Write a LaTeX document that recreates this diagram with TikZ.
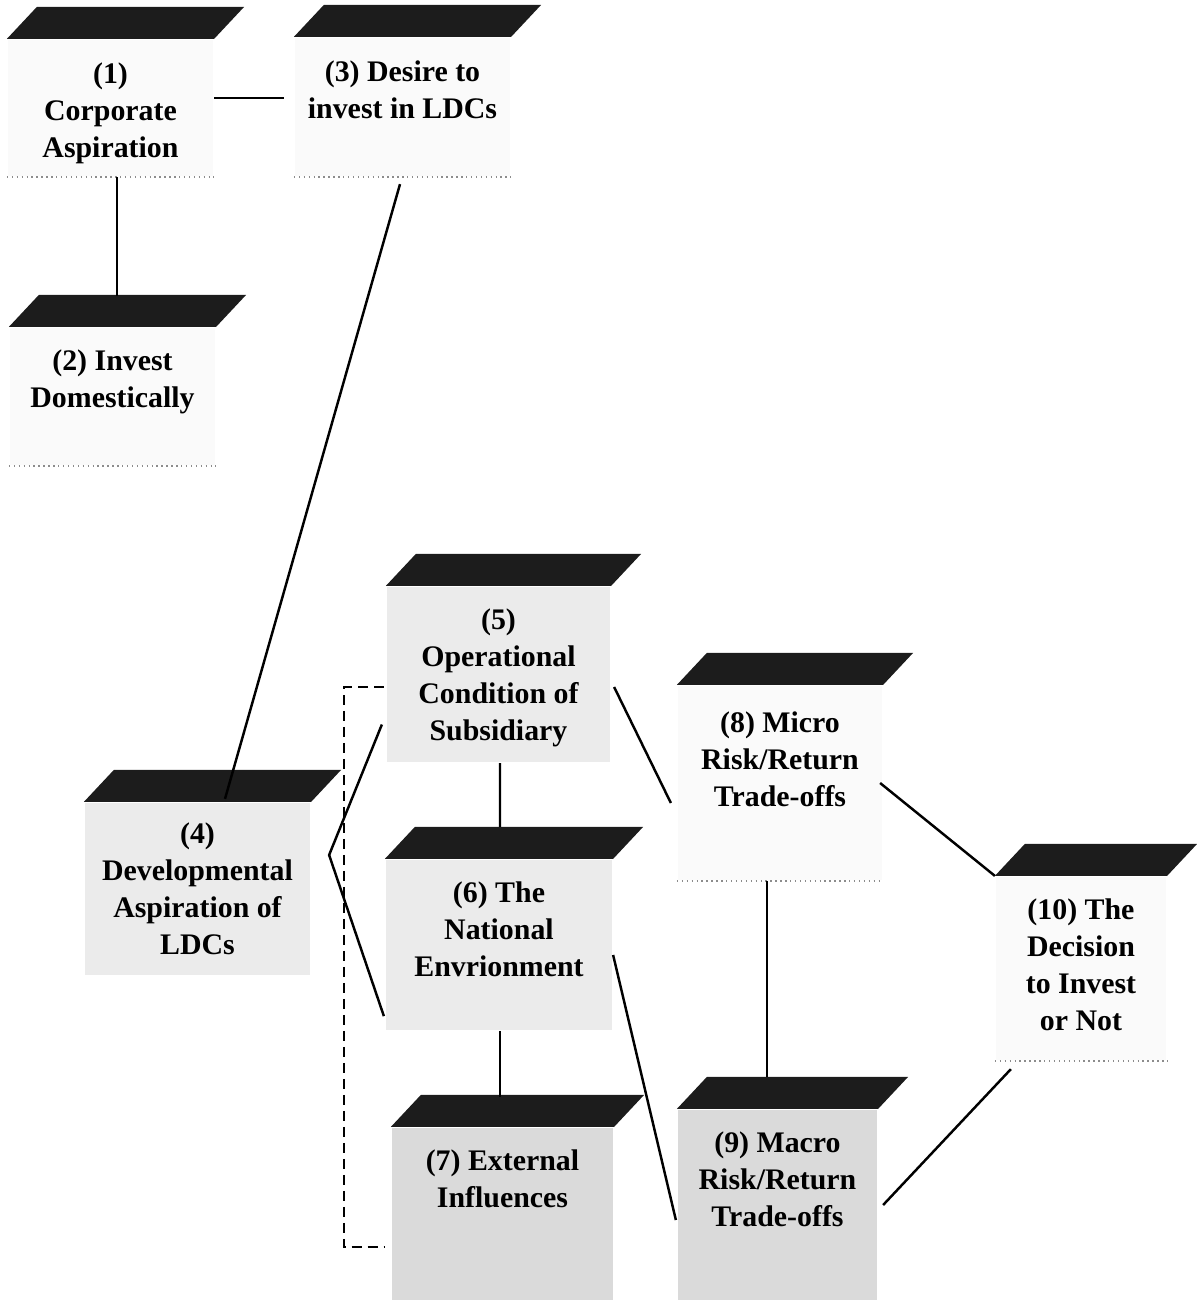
\documentclass[tikz,border=0pt]{standalone}
\usepackage{fontspec}
\setmainfont{Liberation Serif}
\usetikzlibrary{positioning, calc}
\definecolor{clid}{HTML}{1C1C1C}
\definecolor{cpale}{HTML}{FAFAFA}
\definecolor{clight}{HTML}{EBEBEB}
\definecolor{cmid}{HTML}{DADADA}
\tikzset{
  every picture/.style={line width=1.3pt},
  body/.style={fill=#1, inner sep=0pt},
  body/.default=cpale,
  lid/.style={fill=clid},
  txt/.style={font=\bfseries\fontsize{17}{21}\selectfont, align=center, inner sep=0pt},
  link/.style={draw=black, line width=1.4pt},
  dashlink/.style={link, line width=1.2pt, dash pattern=on 0.2cm off 0.12cm},
}

\begin{document}
\begin{tikzpicture}[x=0.02cm, y=-0.02cm]
  \useasboundingbox (0,0) rectangle (1197,1303);
  \node[body, minimum width=4.10cm, minimum height=2.72cm] (b1) at (110.5,108) {};
  \node[body, minimum width=4.10cm, minimum height=2.74cm] (b2) at (112.5,396.5) {};
  \node[body, minimum width=4.30cm, minimum height=2.76cm] (b3) at (402.5,107) {};
  \node[body=clight, minimum width=4.50cm, minimum height=3.44cm] (b4) at (197.5,889) {};
  \node[body=clight, minimum width=4.46cm, minimum height=3.50cm] (b5) at (498.5,674.5) {};
  \node[body=clight, minimum width=4.52cm, minimum height=3.40cm] (b6) at (499,945) {};
  \node[body=cmid, minimum width=4.42cm, minimum height=3.44cm] (b7) at (502.5,1214) {};
  \node[body, minimum width=4.08cm, minimum height=3.88cm] (b8) at (780,783) {};
  \node[body=cmid, minimum width=3.98cm, minimum height=3.80cm] (b9) at (777.5,1205) {};
  \node[body, minimum width=3.40cm, minimum height=3.66cm] (b10) at (1081,968.5) {};
  \foreach \n in {b1,b2,b3,b4,b5,b6,b7,b8,b9,b10}
    \fill[lid] (\n.north west) -- (\n.north east) -- ++(30,-32) -- ($(\n.north west)+(30,-32)$) -- cycle;
  \foreach \n in {b1,b2,b3,b8,b10}
    \draw[dotted, black!45, line width=0.8pt] (\n.south west) -- (\n.south east);
  \node[txt, below=0.46cm of b1.north] (t1) {(1)\\Corporate\\Aspiration};
  \node[txt, below=0.44cm of b2.north] (t2) {(2) Invest\\Domestically};
  \node[txt, below=0.46cm of b3.north] (t3) {(3) Desire to\\invest in LDCs};
  \node[txt, below=0.40cm of b4.north] (t4) {(4)\\Developmental\\Aspiration of\\LDCs};
  \node[txt, below=0.44cm of b5.north] (t5) {(5)\\Operational\\Condition of\\Subsidiary};
  \node[txt, below=0.44cm of b6.north] (t6) {(6) The\\National\\Envrionment};
  \node[txt, below=0.44cm of b7.north] (t7) {(7) External\\Influences};
  \node[txt, below=0.52cm of b8.north] (t8) {(8) Micro\\Risk/Return\\Trade-offs};
  \node[txt, below=0.44cm of b9.north] (t9) {(9) Macro\\Risk/Return\\Trade-offs};
  \node[txt, below=0.44cm of b10.north] (t10) {(10) The\\Decision\\to Invest\\or Not};
  \coordinate (v4) at ($(b4.east)+(18,-34)$);
  \draw[link, shorten >=0.2cm] ($(b1.east)+(0,-10)$) -- ($(b3.west |- b1.east)+(0,-10)$);
  \draw[link] ($(b1.south)+(6.5,0)$) -- ($(b2.north)+(4.5,-31)$);
  \draw[link] ($(b3.south)+(-2.5,7)$) -- ($(b4.north)+(27.5,-3)$);
  \draw[link] ($(b5.west)+(-4,50)$) -- (v4) -- ($(b6.south west)+(-1,-15)$);
  \draw[dashlink] ($(b5.west)+(-2,12.5)$) -- ++(-40,0) |- ($(b7.west)+(-7,33)$);
  \draw[link] ($(b5.south)+(1.5,0)$) -- ($(b6.north)+(1,-32)$); \draw[link] ($(b6.south)+(1,0)$) -- ($(b7.north)+(-2.5,-30)$);
  \draw[link] ($(b5.east)+(3,12.5)$) -- ($(b8.west)+(-6,20)$); \draw[link] ($(b6.east)+(0,10)$) -- ($(b9.west)+(-1,15)$);
  \draw[link] ($(b8.south)+(-13,0)$) -- ($(b9.north)+(-10.5,-32)$);
  \draw[link] ($(b8.east)+(-3,0)$) -- (b10.north west); \draw[link] ($(b9.east)+(5,0)$) -- ($(b10.south west)+(16,8)$);
\end{tikzpicture}
\end{document}
